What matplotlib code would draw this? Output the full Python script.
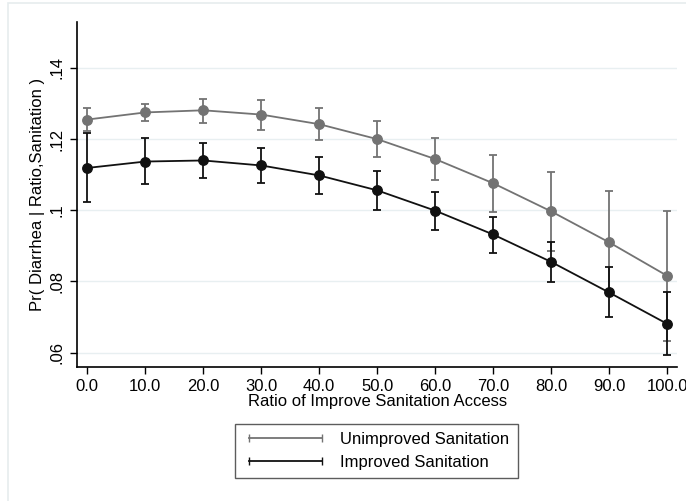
import matplotlib
matplotlib.use("Agg")
import matplotlib.pyplot as plt
from matplotlib.lines import Line2D

plt.rcParams['font.family'] = ['Liberation Sans', 'DejaVu Sans']

# data
ratio = [0, 10, 20, 30, 40, 50, 60, 70, 80, 90, 100]
tick_labels = ["0.0", "10.0", "20.0", "30.0", "40.0", "50.0", "60.0", "70.0", "80.0", "90.0", "100.0"]

unimp = [0.1255, 0.1275, 0.1281, 0.1269, 0.1242, 0.1200, 0.1144, 0.1076, 0.0997, 0.0910, 0.0816]
unimp_lo = [0.1223, 0.1251, 0.1246, 0.1227, 0.1197, 0.1150, 0.1086, 0.0996, 0.0886, 0.0765, 0.0634]
unimp_hi = [0.1287, 0.1300, 0.1314, 0.1310, 0.1287, 0.1250, 0.1204, 0.1156, 0.1108, 0.1055, 0.0999]

imp = [0.1119, 0.1137, 0.1140, 0.1126, 0.1098, 0.1056, 0.0999, 0.0932, 0.0855, 0.0769, 0.0681]
imp_lo = [0.1023, 0.1074, 0.1091, 0.1077, 0.1045, 0.1000, 0.0945, 0.0881, 0.0799, 0.0701, 0.0592]
imp_hi = [0.1216, 0.1202, 0.1188, 0.1175, 0.1150, 0.1110, 0.1051, 0.0982, 0.0910, 0.0840, 0.0771]

y_ticks = [0.06, 0.08, 0.10, 0.12, 0.14]
y_tick_labels = [".06", ".08", ".1", ".12", ".14"]

gray = "#737373"
black = "#111111"

fig = plt.figure(figsize=(6.86, 5.01), dpi=100)
ax = fig.add_axes([76.7 / 686, 1 - 366.7 / 501, (677.5 - 76.7) / 686, (366.7 - 21.7) / 501])

# outer graph region frame (light)
fig.patches.append(plt.Rectangle((8 / 686, -0.01), 1.0, 1 - 3 / 501 + 0.01,
                                 transform=fig.transFigure, fill=False,
                                 edgecolor="#e6ecee", lw=1.2))

for yv in y_ticks:
    ax.axhline(yv, color="#e8eff1", lw=1.0, zorder=0)

for vals, lo, hi, col in [(unimp, unimp_lo, unimp_hi, gray), (imp, imp_lo, imp_hi, black)]:
    yerr = [[v - l for v, l in zip(vals, lo)], [h - v for v, h in zip(vals, hi)]]
    ax.errorbar(ratio, vals, yerr=yerr, color=col, ecolor=col, lw=1.3, elinewidth=1.3,
                capsize=3, capthick=1.3, marker="o", markersize=6.8, zorder=3)

ax.set_xlim(-1.83, 101.8)
ax.set_ylim(0.05604, 0.1530)
ax.set_xticks(ratio)
ax.set_xticklabels(tick_labels)
ax.set_yticks(y_ticks)
ax.set_yticklabels(y_tick_labels, rotation=90, va="center")
ax.tick_params(labelsize=12, length=5, width=1, color="black", pad=4)
ax.spines["top"].set_visible(False)
ax.spines["right"].set_visible(False)
ax.spines["left"].set_linewidth(1.2)
ax.spines["bottom"].set_linewidth(1.2)

ax.set_xlabel("Ratio of Improve Sanitation Access", fontsize=12, labelpad=0)
ax.set_ylabel("Pr( Diarrhea | Ratio,Sanitation )", fontsize=12, labelpad=3)

handles = [Line2D([0], [0], color=gray, lw=1.3, marker="|", markersize=6),
           Line2D([0], [0], color=black, lw=1.3, marker="|", markersize=6)]
leg = fig.legend(handles, ["Unimproved Sanitation", "Improved Sanitation"],
                 loc="center", bbox_to_anchor=(376.5 / 686, 1 - 451 / 501),
                 fontsize=12, frameon=True, fancybox=False, edgecolor="#333333",
                 handlelength=5.0, handletextpad=0.8, borderpad=0.5, labelspacing=0.45,
                 borderaxespad=0, numpoints=2)
leg.get_frame().set_linewidth(1.0)

fig.savefig("out.png", dpi=100, facecolor="white")
